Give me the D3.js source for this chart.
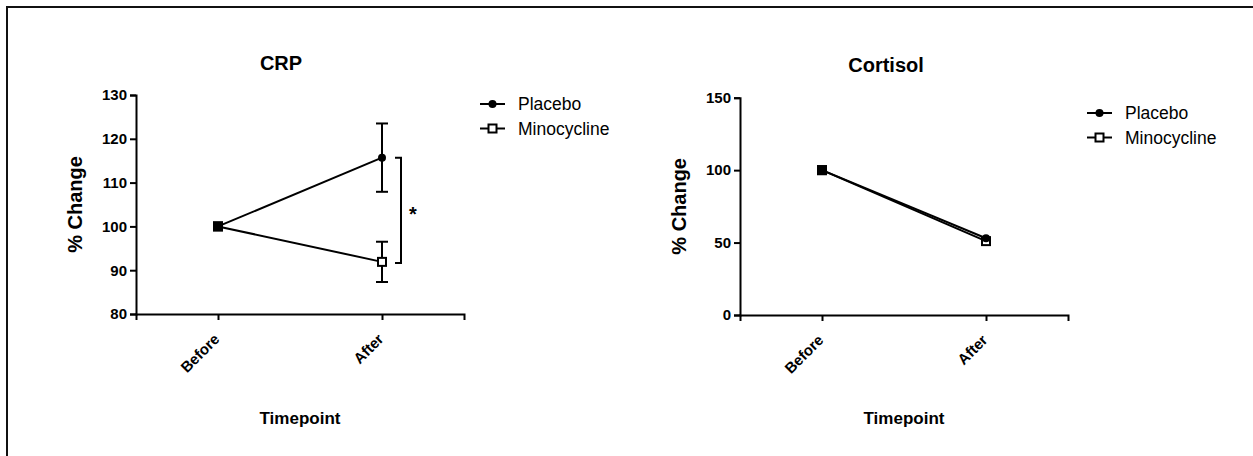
<!DOCTYPE html>
<html lang="en">
<head>
<meta charset="UTF-8">
<title>CRP and Cortisol</title>
<script src="https://d3js.org/d3.v7.min.js"></script>
<style>
    body { margin: 0; background: #ffffff; font-family: "Liberation Sans", Arial, sans-serif; }
    svg { display: block; }
    .axis path, .axis line { stroke: #000; stroke-width: 2px; }
    .axis text { font-family: "Liberation Sans", Arial, sans-serif; font-weight: bold; fill: #000; }
    .titulo { font-weight: bold; font-size: 20px; }
    .eje-titulo { font-weight: bold; font-size: 20px; }
    .eje-x-titulo { font-weight: bold; font-size: 17px; }
    .leyenda { font-size: 17.5px; }
</style>
</head>
<body>
<svg width="1253" height="456"></svg>
<script>
    // datos
    const categories = ["Before", "After"];
    const seriesNames = ["Placebo", "Minocycline"];

    const crpPlacebo = [100, 115.7];
    const crpPlaceboSem = [0, 7.8];
    const crpMino = [100, 91.9];
    const crpMinoSem = [0, 4.6];
    const crpTicks = [80, 90, 100, 110, 120, 130];

    const cortPlacebo = [100, 53];
    const cortMino = [100, 51];
    const cortTicks = [0, 50, 100, 150];

    const svg = d3.select("svg");

    // marco de la figura (solo se ven borde izquierdo y superior)
    svg.append("rect")
        .attr("x", 7).attr("y", 7)
        .attr("width", 1300).attr("height", 500)
        .attr("fill", "none")
        .attr("stroke", "#111")
        .attr("stroke-width", 2);

    function panel(cfg) {
        const g = svg.append("g");
        const x = d3.scalePoint().domain(categories).range([cfg.x0, cfg.x1]).padding(0.5);
        const y = d3.scaleLinear().domain(cfg.domain).range([cfg.y0, cfg.y1]);

        g.append("g")
            .attr("class", "axis")
            .attr("transform", `translate(${cfg.x0},0)`)
            .call(d3.axisLeft(y).tickValues(cfg.ticks).tickSizeOuter(0).tickSize(6).tickPadding(3))
            .attr("font-size", 15);

        const ax = g.append("g")
            .attr("class", "axis")
            .attr("transform", `translate(0,${cfg.y0})`)
            .call(d3.axisBottom(x).tickSizeOuter(0).tickSize(6).tickPadding(3))
            .attr("font-size", 15);
        ax.selectAll("text")
            .attr("text-anchor", "end")
            .attr("y", 0)
            .attr("dy", 0)
            .attr("transform", "translate(2,26) rotate(-45)");

        // titulos
        g.append("text").attr("class", "titulo")
            .attr("x", cfg.titleX).attr("y", cfg.titleY)
            .attr("text-anchor", "middle").text(cfg.title);

        g.append("text").attr("class", "eje-titulo")
            .attr("transform", `translate(${cfg.x0 - 54},${(cfg.y0 + cfg.y1) / 2}) rotate(-90)`)
            .attr("text-anchor", "middle").text("% Change");

        g.append("text").attr("class", "eje-x-titulo")
            .attr("x", (cfg.x0 + cfg.x1) / 2).attr("y", 424)
            .attr("text-anchor", "middle").text("Timepoint");

        const line = d3.line().x((d, i) => x(categories[i])).y(d => y(d));

        [cfg.mino, cfg.placebo].forEach(vals => {
            g.append("path").datum(vals)
                .attr("d", line)
                .attr("fill", "none")
                .attr("stroke", "#000")
                .attr("stroke-width", 2);
        });

        // barras de error
        [[cfg.placebo, cfg.placeboSem], [cfg.mino, cfg.minoSem]].forEach(([vals, sem]) => {
            if (!sem) return;
            vals.forEach((v, i) => {
                if (!sem[i]) return;
                const cx = x(categories[i]);
                const eg = g.append("g").attr("stroke", "#000").attr("stroke-width", 2);
                eg.append("line").attr("x1", cx).attr("x2", cx).attr("y1", y(v - sem[i])).attr("y2", y(v + sem[i]));
                [v - sem[i], v + sem[i]].forEach(e => {
                    eg.append("line").attr("x1", cx - 6).attr("x2", cx + 6).attr("y1", y(e)).attr("y2", y(e));
                });
            });
        });

        // marcadores
        g.selectAll(".sq").data(cfg.mino).join("rect")
            .attr("x", (d, i) => x(categories[i]) - 4)
            .attr("y", d => y(d) - 4)
            .attr("width", 8).attr("height", 8)
            .attr("fill", "#fff").attr("stroke", "#000").attr("stroke-width", 2);
        g.selectAll(".ci").data(cfg.placebo).join("circle")
            .attr("cx", (d, i) => x(categories[i]))
            .attr("cy", d => y(d))
            .attr("r", 4).attr("fill", "#000");
        // Before: ambos coinciden y se ve un cuadrado lleno
        g.append("rect")
            .attr("x", x(categories[0]) - 5).attr("y", y(cfg.mino[0]) - 5)
            .attr("width", 10).attr("height", 10).attr("fill", "#000");

        // leyenda
        const lg = g.append("g").attr("transform", `translate(${cfg.legX},${cfg.legY})`);
        seriesNames.forEach((name, i) => {
            const row = lg.append("g").attr("transform", `translate(0,${i * 24.5})`);
            row.append("line").attr("x1", 0).attr("x2", 25).attr("stroke", "#000").attr("stroke-width", 2);
            if (i === 0) {
                row.append("circle").attr("cx", 12.5).attr("r", 4).attr("fill", "#000");
            } else {
                row.append("rect").attr("x", 8.5).attr("y", -4).attr("width", 8).attr("height", 8)
                    .attr("fill", "#fff").attr("stroke", "#000").attr("stroke-width", 2);
            }
            row.append("text").attr("class", "leyenda").attr("x", 38).attr("dy", "0.35em").text(name);
        });

        return { x, y, g };
    }

    const crp = panel({
        title: "CRP", titleX: 281, titleY: 70,
        x0: 136, x1: 464, y0: 314, y1: 95, domain: [80, 130], ticks: crpTicks,
        placebo: crpPlacebo, placeboSem: crpPlaceboSem, mino: crpMino, minoSem: crpMinoSem,
        legX: 480, legY: 104
    });

    panel({
        title: "Cortisol", titleX: 886, titleY: 72,
        x0: 740, x1: 1068, y0: 315, y1: 97.7, domain: [0, 150], ticks: cortTicks,
        placebo: cortPlacebo, mino: cortMino,
        legX: 1087, legY: 113
    });

    // corchete de significancia
    const bx = crp.x("After") + 19;
    const yTop = crp.y(crpPlacebo[1]);
    const yBot = crp.y(crpMino[1]) + 1;
    crp.g.append("path")
        .attr("d", `M${bx - 6},${yTop}H${bx}V${yBot}H${bx - 6}`)
        .attr("fill", "none").attr("stroke", "#000").attr("stroke-width", 2);
    crp.g.append("text")
        .attr("x", bx + 12).attr("y", (yTop + yBot) / 2 + 11)
        .attr("text-anchor", "middle")
        .style("font-size", "20px").style("font-weight", "bold")
        .text("*");
</script>
</body>
</html>
